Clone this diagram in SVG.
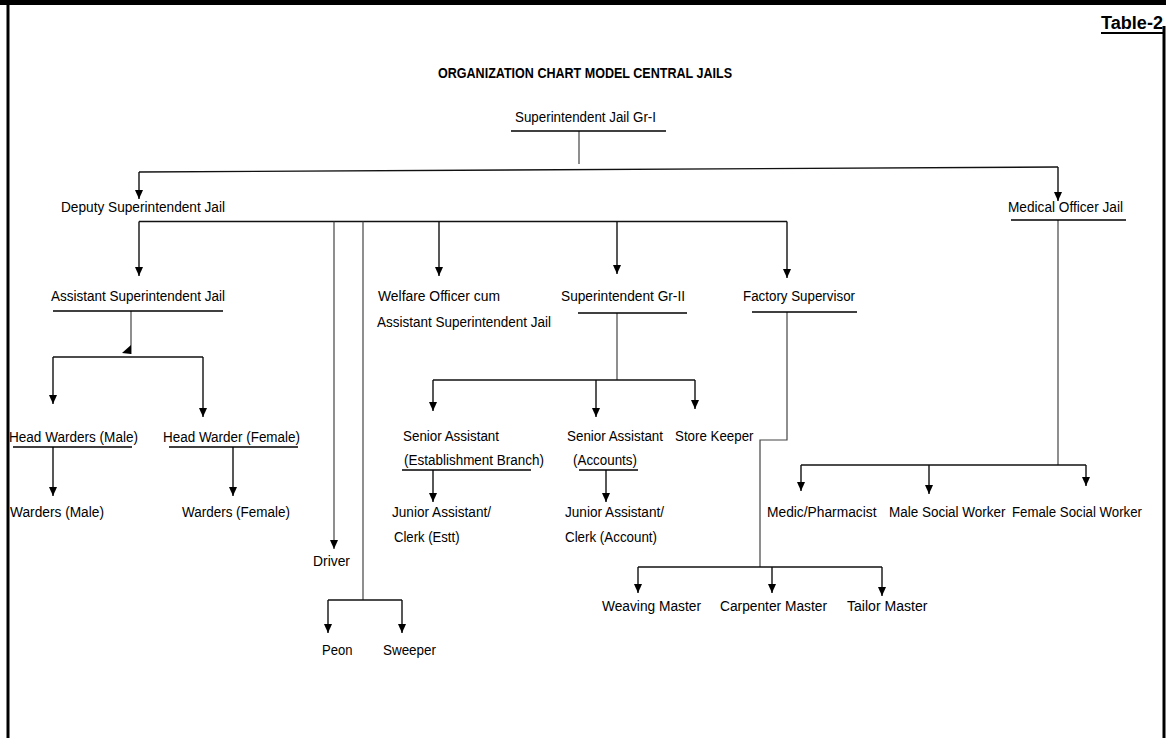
<svg xmlns="http://www.w3.org/2000/svg" width="1172" height="738" viewBox="0 0 1172 738">
<style>
text{font-family:"Liberation Sans",Arial,sans-serif;font-size:14px;fill:#000;}
.b{font-weight:bold;}
.ul{stroke:#000;stroke-width:1.3;fill:none;}
.c{stroke:#111;stroke-width:1.4;fill:none;}
.t{stroke:#444;stroke-width:1.2;fill:none;}
.a{marker-end:url(#arr);}
</style>
<defs>
<marker id="arr" markerUnits="userSpaceOnUse" markerWidth="10" markerHeight="9" refX="9" refY="4" orient="auto">
<path d="M0,0 L9,4 L0,8 z" fill="#000"/>
</marker>
</defs>
<rect width="1172" height="738" fill="#fff"/>
<g id="frame" fill="#000">
<rect x="0" y="0" width="1166" height="5"/>
<rect x="6.5" y="0" width="3" height="738"/>
<rect x="1162.5" y="26" width="3" height="712"/>
</g>
<g id="table-label">
<text class="b" x="1101" y="29" style="font-size:18px" textLength="62" lengthAdjust="spacingAndGlyphs">Table-2</text>
<line x1="1101" y1="33" x2="1163" y2="33" stroke="#000" stroke-width="2"/>
</g>
<g id="title">
<text class="b" x="438" y="78" style="font-size:14.5px" textLength="294" lengthAdjust="spacingAndGlyphs">ORGANIZATION CHART MODEL CENTRAL JAILS</text>
</g>
<g id="connectors">
<path class="t" d="M579,131 V164"/>
<path class="c" d="M139,172 L1058,167"/>
<path class="c a" d="M139,172 V199"/>
<path class="c a" d="M1058,167 V201"/>
<path class="c" d="M139,221.5 H787"/>
<path class="c a" d="M139,221.5 V276"/>
<path class="t a" d="M334,221.5 V549"/>
<path class="t" d="M363,221.5 V600"/>
<path class="c" d="M328,600 H402"/>
<path class="c a" d="M328,600 V633"/>
<path class="c a" d="M402,600 V633"/>
<path class="c a" d="M439,221.5 V276"/>
<path class="c a" d="M617,221.5 V274"/>
<path class="c a" d="M787,221.5 V278"/>
<path class="t" d="M131,311 V354"/>
<polygon points="131,345 131,354 122,353" fill="#000"/>
<path class="c" d="M53,357 H203"/>
<path class="c a" d="M53,357 V404"/>
<path class="c a" d="M203,357 V417"/>
<path class="c a" d="M53,447 V496"/>
<path class="c a" d="M233,447 V496"/>
<path class="t" d="M617,313 V380"/>
<path class="c" d="M433,380 H695"/>
<path class="c a" d="M433,380 V411"/>
<path class="c a" d="M596,380 V417"/>
<path class="c a" d="M695,380 V409"/>
<path class="c a" d="M433,470 V502"/>
<path class="c a" d="M606,470 V502"/>
<path class="t" d="M787,312 V440 H760 V567"/>
<path class="c" d="M638,567 H882"/>
<path class="c a" d="M638,567 V593"/>
<path class="c a" d="M772,567 V593"/>
<path class="c a" d="M882,567 V596"/>
<path class="t" d="M1058,220 V465"/>
<path class="c" d="M801,465 H1086"/>
<path class="c a" d="M801,465 V491"/>
<path class="c a" d="M929,465 V494"/>
<path class="c a" d="M1086,465 V486"/>
</g>
<g id="superintendent-jail">
<text x="515" y="121.5" textLength="141" lengthAdjust="spacingAndGlyphs">Superintendent Jail Gr-I</text>
<line class="ul" x1="511" y1="131" x2="666" y2="131"/>
</g>
<g id="deputy-superintendent">
<text x="61" y="212" textLength="164" lengthAdjust="spacingAndGlyphs">Deputy Superintendent Jail</text>
</g>
<g id="medical-officer">
<text x="1008" y="211.5" textLength="115" lengthAdjust="spacingAndGlyphs">Medical Officer Jail</text>
<line class="ul" x1="1011" y1="220" x2="1126" y2="220"/>
</g>
<g id="assistant-superintendent">
<text x="51" y="300.5" textLength="174" lengthAdjust="spacingAndGlyphs">Assistant Superintendent Jail</text>
<line class="ul" x1="53" y1="311" x2="223" y2="311"/>
</g>
<g id="welfare-officer">
<text x="378" y="301" textLength="122" lengthAdjust="spacingAndGlyphs">Welfare Officer cum</text>
<text x="377" y="326.5" textLength="174" lengthAdjust="spacingAndGlyphs">Assistant Superintendent Jail</text>
</g>
<g id="superintendent-gr2">
<text x="561" y="301" textLength="124" lengthAdjust="spacingAndGlyphs">Superintendent Gr-II</text>
<line class="ul" x1="578" y1="313" x2="687" y2="313"/>
</g>
<g id="factory-supervisor">
<text x="743" y="301" textLength="112" lengthAdjust="spacingAndGlyphs">Factory Supervisor</text>
<line class="ul" x1="752" y1="312" x2="857" y2="312"/>
</g>
<g id="head-warders-male">
<text x="9" y="441.5" textLength="129" lengthAdjust="spacingAndGlyphs">Head Warders (Male)</text>
<line class="ul" x1="13" y1="447" x2="132" y2="447"/>
</g>
<g id="head-warder-female">
<text x="163" y="441.5" textLength="137" lengthAdjust="spacingAndGlyphs">Head Warder (Female)</text>
<line class="ul" x1="169" y1="447" x2="298" y2="447"/>
</g>
<g id="warders-male">
<text x="10" y="516.5" textLength="94" lengthAdjust="spacingAndGlyphs">Warders (Male)</text>
</g>
<g id="warders-female">
<text x="182" y="516.5" textLength="108" lengthAdjust="spacingAndGlyphs">Warders (Female)</text>
</g>
<g id="senior-assistant-est">
<text x="403" y="440.5" textLength="96" lengthAdjust="spacingAndGlyphs">Senior Assistant</text>
<text x="404" y="465" textLength="140" lengthAdjust="spacingAndGlyphs">(Establishment Branch)</text>
<line class="ul" x1="402" y1="470" x2="531" y2="470"/>
</g>
<g id="senior-assistant-acc">
<text x="567" y="440.5" textLength="96" lengthAdjust="spacingAndGlyphs">Senior Assistant</text>
<text x="573" y="465" textLength="64" lengthAdjust="spacingAndGlyphs">(Accounts)</text>
<line class="ul" x1="579" y1="470" x2="638" y2="470"/>
</g>
<g id="store-keeper">
<text x="675" y="440.5" textLength="78.5" lengthAdjust="spacingAndGlyphs">Store Keeper</text>
</g>
<g id="junior-assistant-est">
<text x="392" y="517" textLength="99" lengthAdjust="spacingAndGlyphs">Junior Assistant/</text>
<text x="394" y="542" textLength="65.5" lengthAdjust="spacingAndGlyphs">Clerk (Estt)</text>
</g>
<g id="junior-assistant-acc">
<text x="565" y="517" textLength="99" lengthAdjust="spacingAndGlyphs">Junior Assistant/</text>
<text x="565" y="542" textLength="92" lengthAdjust="spacingAndGlyphs">Clerk (Account)</text>
</g>
<g id="medic">
<text x="767" y="516.5" textLength="109.5" lengthAdjust="spacingAndGlyphs">Medic/Pharmacist</text>
</g>
<g id="male-social-worker">
<text x="889" y="516.5" textLength="116.5" lengthAdjust="spacingAndGlyphs">Male Social Worker</text>
</g>
<g id="female-social-worker">
<text x="1012" y="516.5" textLength="130" lengthAdjust="spacingAndGlyphs">Female Social Worker</text>
</g>
<g id="driver">
<text x="313" y="566" textLength="37" lengthAdjust="spacingAndGlyphs">Driver</text>
</g>
<g id="peon">
<text x="322" y="655" textLength="30.5" lengthAdjust="spacingAndGlyphs">Peon</text>
</g>
<g id="sweeper">
<text x="383" y="655" textLength="53" lengthAdjust="spacingAndGlyphs">Sweeper</text>
</g>
<g id="weaving-master">
<text x="602" y="610.5" textLength="99" lengthAdjust="spacingAndGlyphs">Weaving Master</text>
</g>
<g id="carpenter-master">
<text x="720" y="610.5" textLength="107" lengthAdjust="spacingAndGlyphs">Carpenter Master</text>
</g>
<g id="tailor-master">
<text x="847" y="610.5" textLength="80.5" lengthAdjust="spacingAndGlyphs">Tailor Master</text>
</g>
</svg>
